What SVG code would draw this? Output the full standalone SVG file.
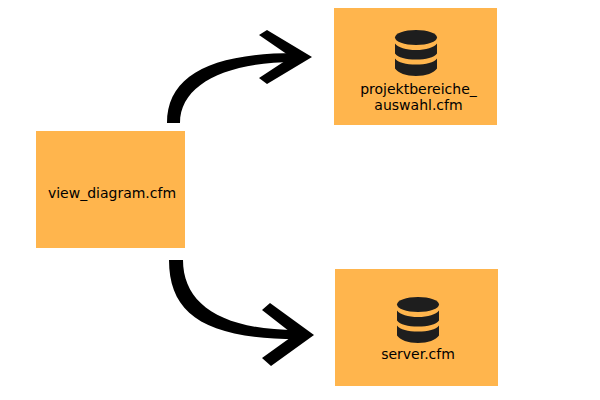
<svg xmlns="http://www.w3.org/2000/svg" width="600" height="400" viewBox="0 0 600 400">
<defs>
<style>
.box{fill:#ffb54d}
.lbl{font-family:"DejaVu Sans",sans-serif;font-size:14px;fill:#000;text-anchor:middle}
.edge{fill:#000;stroke:none}
.head{fill:#000;stroke:none}
.db{fill:#1e1e1e}
</style>
<g id="db">
<path class="db" d="M0 7.500C0 3.400 9.400 0 21 0S42 3.400 42 7.500S32.600 15 21 15S0 11.600 0 7.500Z"/>
<path class="db" d="M0 13.500C3 17.500 11 20 21 20S39 17.500 42 13.500V23.500C39 27.500 31 29.500 21 29.500S3 27.500 0 23.500Z"/>
<path class="db" d="M0 28.500C3 32.500 11 34.500 21 34.500S39 32.500 42 28.500V38.500C39 43 31 46 21 46S3 43 0 38.500Z"/>
</g>
</defs>
<g id="connectors">
<path class="edge" d="M167 123C167 76 210 53 295 53V62C225 62 180 85 180 123Z"/>
<polygon class="head" points="259,35 267,30 312,57 267,84 259,78 291,57"/>
<path class="edge" d="M169 260C169 314 205 339 297 339V330C220 330 183 303 183 260Z"/>
<polygon class="head" points="262,310 270,303 314,335 271,366 262,358 294,335"/>
</g>
<g id="view_diagram">
<rect class="box" x="36" y="131" width="149" height="117"/>
<text class="lbl" x="112" y="198">view_diagram.cfm</text>
</g>
<g id="projektbereiche">
<rect class="box" x="334" y="8" width="163" height="117"/>
<use href="#db" x="395" y="30"/>
<text class="lbl" x="418.500" y="94">projektbereiche_</text>
<text class="lbl" x="418.500" y="110">auswahl.cfm</text>
</g>
<g id="server">
<rect class="box" x="335" y="269" width="163" height="117"/>
<use href="#db" x="397" y="297"/>
<text class="lbl" x="418" y="359">server.cfm</text>
</g>
</svg>
